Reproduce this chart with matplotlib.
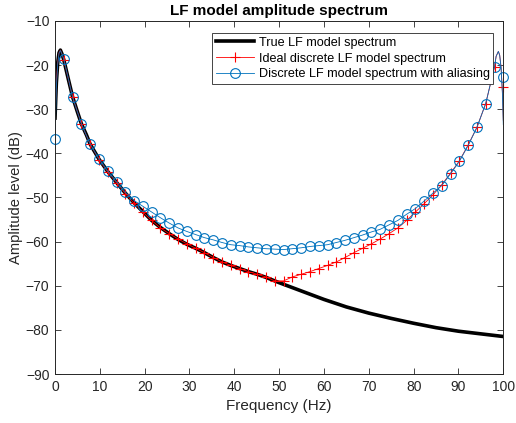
import numpy as np
import matplotlib
matplotlib.use("Agg")
import matplotlib.pyplot as plt
from matplotlib.lines import Line2D

plt.rcParams["font.family"] = ["Liberation Sans", "DejaVu Sans"]

# true (continuous) LF model spectrum
true_freq = [0, 0.3, 0.6, 0.9, 1.2, 1.6, 1.96, 3, 3.92, 5, 5.88, 7, 7.84, 9, 9.8,
             11.76, 13.73, 15.69, 17.65, 19.61, 21.57, 23.53, 25.49, 27.45, 29.41,
             31.37, 33.33, 35.29, 37.25, 39.22, 41.18, 43.14, 45.1, 47.06, 49.02, 50,
             55, 60, 65, 70, 75, 80, 85, 90, 95, 100]
true_db = [-32.0, -24.0, -19.5, -17.2, -16.6, -17.6, -18.8, -23.3, -27.2, -30.6, -33.3, -35.8, -37.9, -39.9, -41.3,
           -44.1, -46.6, -49.0, -51.2, -53.2, -55.2, -56.8, -58.2, -59.5, -60.6,
           -61.5, -62.5, -63.6, -64.6, -65.4, -66.1, -66.8, -67.4, -68.1, -68.9, -69.3,
           -71.2, -73.1, -74.8, -76.2, -77.4, -78.5, -79.5, -80.3, -80.9, -81.5]

# discrete frequencies of the markers (k * 100 / 51)
marker_freq = np.linspace(0, 100, 52)

# first red marker is not visible in the chart
ideal_db = [np.nan, -18.8, -27.2, -33.3, -37.9, -41.4, -44.2, -46.7, -49.1, -51.3,
            -53.3, -55.2, -56.9, -58.2, -59.4, -60.5, -61.5, -62.5, -63.6, -64.6,
            -65.4, -66.1, -66.8, -67.4, -68.0, -68.9, -68.9, -68.0, -67.4, -66.8,
            -66.1, -65.4, -64.6, -63.6, -62.5, -61.5, -60.5, -59.4, -58.2, -56.9,
            -55.2, -53.3, -51.4, -49.4, -47.1, -44.5, -41.7, -38.1, -34.1, -28.7,
            -20.4, -24.9]

alias_db = [-36.7, -18.6, -27.3, -33.3, -37.9, -41.2, -44.0, -46.4, -48.8, -50.7,
            -52.0, -53.3, -54.6, -55.8, -56.9, -57.7, -58.4, -59.1, -59.6, -60.2,
            -60.7, -60.9, -61.2, -61.4, -61.6, -61.7, -61.8, -61.6, -61.4, -61.1,
            -60.9, -60.7, -60.2, -59.7, -59.1, -58.5, -57.8, -57.2, -56.2, -55.2,
            -53.8, -52.5, -50.8, -49.0, -47.3, -44.6, -41.8, -38.2, -34.1, -28.7,
            -20.4, -22.8]

# extra detail of the thin lines at both ends
lo_freq = [0, 0.3, 0.6, 0.9, 1.2, 1.6]
ideal_lo_db = [-32.0, -24.0, -19.5, -17.2, -16.6, -17.6]
alias_lo_db = [-36.7, -25.0, -19.8, -17.3, -16.7, -17.6]
hi_freq = [98.4, 98.9, 99.2, 99.5, 99.8, 100]
ideal_hi_db = [-18.0, -16.9, -17.8, -20.5, -26.0, -32.5]
alias_hi_db = [-18.0, -16.9, -17.8, -20.6, -26.5, -33.5]

blue = "#0072BD"
red = "#FF0000"
dark = "#262626"

line_f = lo_freq + list(marker_freq[1:-1]) + hi_freq
ideal_line = ideal_lo_db + ideal_db[1:-1] + ideal_hi_db
alias_line = alias_lo_db + alias_db[1:-1] + alias_hi_db

fig = plt.figure(figsize=(5.16, 4.23), dpi=100)
ax = fig.add_axes([0.1066, 0.1158, 0.8688, 0.8346])

ax.plot(true_freq, true_db, color="black", lw=2.6, solid_joinstyle="round")
ax.plot(line_f, ideal_line, color=red, lw=0.6)
ax.plot(marker_freq, ideal_db, ls="none", marker="+", ms=7.5, mew=0.8, color=red,
        clip_on=False)
ax.plot(line_f, alias_line, color=blue, lw=0.6)
ax.plot(marker_freq, alias_db, ls="none", marker="o", ms=7, mew=0.8,
        mfc="none", mec=blue, clip_on=False)

ax.set_xlim(0, 100)
ax.set_ylim(-90, -10)
ax.set_xticks(np.arange(0, 101, 10))
ax.set_yticks(np.arange(-90, -9, 10))
ax.tick_params(direction="in", length=4, width=0.6, colors=dark, labelsize=10,
               top=True, right=True, pad=4)
for s in ax.spines.values():
    s.set_color(dark)
    s.set_linewidth(0.7)

ax.set_xlabel("Frequency (Hz)", fontsize=11, color=dark)
ax.set_ylabel("Amplitude level (dB)", fontsize=10.6, color=dark, labelpad=2)
ax.set_title("LF model amplitude spectrum", fontsize=11, fontweight="bold", pad=4)

handles = [
    Line2D([], [], color="black", lw=2.6),
    Line2D([], [], color=red, lw=0.6, marker="+", ms=7.5, mew=0.8),
    Line2D([], [], color=blue, lw=0.6, marker="o", ms=7, mew=0.8, mfc="none"),
]
labels = ["True LF model spectrum", "Ideal discrete LF model spectrum",
          "Discrete LF model spectrum with aliasing"]
leg = ax.legend(handles, labels, loc="upper right", bbox_to_anchor=(0.9777, 0.966),
                borderaxespad=0, fontsize=9.1, frameon=True, fancybox=False,
                framealpha=1, edgecolor=dark, handlelength=3.0, handletextpad=0.35,
                labelspacing=0.3, borderpad=0.3)
leg.get_frame().set_linewidth(0.6)

fig.savefig("out.png", dpi=100)
